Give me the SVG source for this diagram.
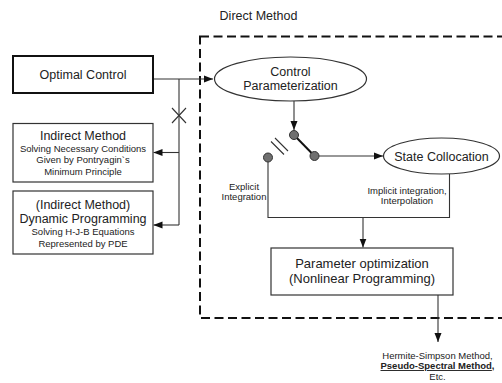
<svg xmlns="http://www.w3.org/2000/svg" width="502" height="383" viewBox="0 0 502 383">
<defs>
<marker id="arr" markerUnits="userSpaceOnUse" markerWidth="9" markerHeight="8" refX="9" refY="4" orient="auto">
<path d="M0,0.5 L9,4 L0,7.5 Z" fill="#111"/>
</marker>
<style>
text{font-family:"Liberation Sans",Arial,sans-serif;fill:#222;text-anchor:middle}
.t{font-size:12.5px}
.s{font-size:9.5px}
.box{fill:#fff;stroke:#333;stroke-width:1.2}
.ln{fill:none;stroke:#333;stroke-width:1.1}
.dot{fill:#707070;stroke:#333;stroke-width:1}
</style>
</defs>
<rect width="502" height="383" fill="#fff"/>
<g id="direct-frame">
<rect x="200" y="36.5" width="330" height="281.5" fill="none" stroke="#111" stroke-width="2" stroke-dasharray="9 4.5"/>
<text class="t" x="258.5" y="20">Direct Method</text>
</g>
<g id="connectors">
<path class="ln" d="M153,79 H213" marker-end="url(#arr)"/>
<path class="ln" d="M179,79 V225"/>
<path class="ln" d="M179,152.5 H153.5" marker-end="url(#arr)"/>
<path class="ln" d="M179,225 H153.5" marker-end="url(#arr)"/>
<path class="ln" d="M172,108 L186,123 M186,108 L172,123"/>
<path class="ln" d="M294,101 V130" marker-end="url(#arr)"/>
<path d="M294,135 L314.5,156" stroke="#111" stroke-width="2" fill="none"/>
<path class="ln" d="M319,156 H383" marker-end="url(#arr)"/>
<path class="ln" d="M271,141.5 L284,154.5 M275,138 L288,151"/>
<path class="ln" d="M268,162 V217.5 H449.5 V174"/>
<path class="ln" d="M363,217.5 V247.5" marker-end="url(#arr)"/>
<path class="ln" d="M438,295 V342" marker-end="url(#arr)"/>
</g>
<g id="optimal-control">
<rect x="13" y="56" width="140" height="37" fill="#fff" stroke="#111" stroke-width="2"/>
<text class="t" x="83" y="79">Optimal Control</text>
</g>
<g id="indirect-method">
<rect class="box" x="13" y="123.5" width="140" height="58.5"/>
<text class="t" x="83" y="139.5">Indirect Method</text>
<text class="s" x="83" y="151.5">Solving Necessary Conditions</text>
<text class="s" x="83" y="163">Given by Pontryagin`s</text>
<text class="s" x="83" y="174.5">Minimum Principle</text>
</g>
<g id="dynamic-programming">
<rect class="box" x="13" y="191" width="140" height="63"/>
<text class="t" x="83" y="208.5">(Indirect Method)</text>
<text class="t" x="83" y="222.5">Dynamic Programming</text>
<text class="s" x="83" y="235">Solving H-J-B Equations</text>
<text class="s" x="83" y="246.5">Represented by PDE</text>
</g>
<g id="control-parameterization">
<ellipse class="box" cx="290.5" cy="79" rx="76" ry="22"/>
<text class="t" x="290.5" y="76">Control</text>
<text class="t" x="290.5" y="90">Parameterization</text>
</g>
<g id="switch">
<circle class="dot" cx="294" cy="135" r="4.5"/>
<circle class="dot" cx="314.5" cy="156" r="4.5"/>
<circle class="dot" cx="268" cy="157.5" r="4.5"/>
</g>
<g id="state-collocation">
<ellipse class="box" cx="441.5" cy="156" rx="58" ry="18"/>
<text class="t" x="441.5" y="160.5">State Collocation</text>
</g>
<g id="labels">
<text class="s" x="244" y="189.5">Explicit</text>
<text class="s" x="244" y="200">Integration</text>
<text class="s" x="407" y="193.5">Implicit integration,</text>
<text class="s" x="407" y="204">Interpolation</text>
</g>
<g id="parameter-optimization">
<rect class="box" x="271" y="248" width="182" height="47"/>
<text x="362" y="268" style="font-size:13px">Parameter optimization</text>
<text x="362" y="283" style="font-size:13px">(Nonlinear Programming)</text>
</g>
<g id="methods">
<text class="s" x="437.5" y="358.5">Hermite-Simpson Method,</text>
<text class="s" x="437.5" y="369" style="font-weight:bold"><tspan text-decoration="underline">Pseudo-Spectral Method</tspan>,</text>
<text class="s" x="437.5" y="379.5">Etc.</text>
</g>
</svg>
